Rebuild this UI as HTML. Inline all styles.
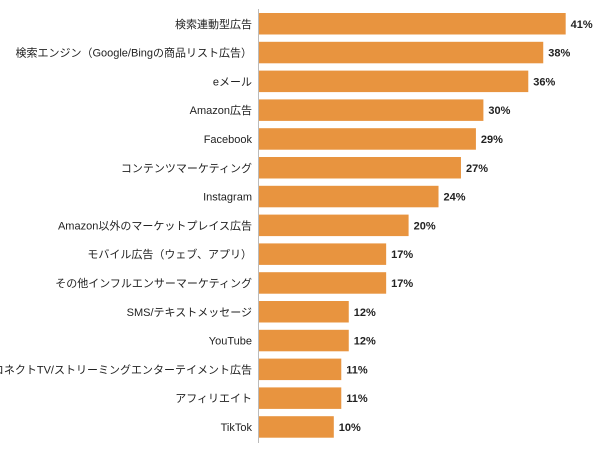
<!DOCTYPE html>
<html><head><meta charset="utf-8"><style>
body{margin:0;background:#fff;}
svg text{font-family:"Liberation Sans","Noto Sans CJK JP",sans-serif;font-size:11px;fill:#222;}
</style></head><body>
<svg width="600" height="450">
<line x1="258.5" y1="9" x2="258.5" y2="443" stroke="#bbb" stroke-width="1"/>
<g id="bars"></g>
</svg>
<script>
const categories=["検索連動型広告","検索エンジン（Google/Bingの商品リスト広告）","eメール","Amazon広告","Facebook","コンテンツマーケティング","Instagram","Amazon以外のマーケットプレイス広告","モバイル広告（ウェブ、アプリ）","その他インフルエンサーマーケティング","SMS/テキストメッセージ","YouTube","コネクトTV/ストリーミングエンターテイメント広告","アフィリエイト","TikTok"];
const values=[41,38,36,30,29,27,24,20,17,17,12,12,11,11,10];
const x0=259, scale=7.48, top0=13, step=28.8, bh=21.5;
const xs=v=>v*scale;
const g=document.getElementById('bars');
const ns="http://www.w3.org/2000/svg";
categories.forEach((c,i)=>{
  const y=top0+i*step;
  const r=document.createElementNS(ns,'rect');
  
  
  r.setAttribute('x',x0);r.setAttribute('y',y);r.setAttribute('width',xs(values[i]));r.setAttribute('height',bh);r.setAttribute('fill','#E8943F');
  g.appendChild(r);
  const l=document.createElementNS(ns,'text');
  
  
  l.setAttribute('x',252);l.setAttribute('y',y+bh/2+4);l.setAttribute('text-anchor','end');
  l.textContent=c;g.appendChild(l);
  const v=document.createElementNS(ns,'text');
  
  
  v.setAttribute('x',x0+xs(values[i])+5);v.setAttribute('y',y+bh/2+4);v.setAttribute('font-weight','bold');
  v.textContent=values[i]+'%';g.appendChild(v);
});
</script>
</body></html>
